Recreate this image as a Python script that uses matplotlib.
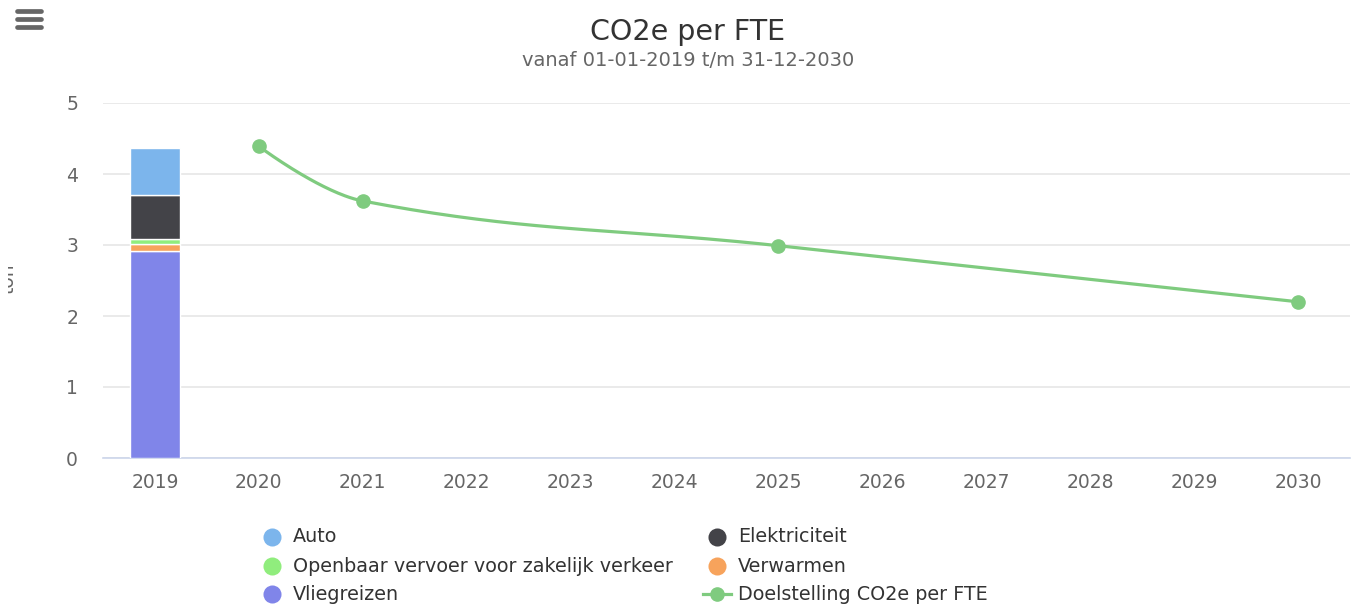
import matplotlib
matplotlib.use("Agg")
import matplotlib.pyplot as plt
import numpy as np
from matplotlib.lines import Line2D
from matplotlib.transforms import Bbox

# ---------------------------------------------------------------------------
# Data
# ---------------------------------------------------------------------------
years = ["2019", "2020", "2021", "2022", "2023", "2024",
         "2025", "2026", "2027", "2028", "2029", "2030"]

# stacked bar for 2019 (bottom -> top)
stack_names = ["Vliegreizen", "Verwarmen", "Openbaar vervoer voor zakelijk verkeer",
               "Elektriciteit", "Auto"]
stack_values = [2.92, 0.09, 0.07, 0.62, 0.67]
stack_colors = ["#8085e9", "#f7a35c", "#90ed7d", "#434348", "#7cb5ec"]

# target line
target_years = ["2020", "2021", "2025", "2030"]
target_values = [4.39, 3.62, 2.99, 2.20]
target_color = "#7fcb7f"

W, H = 1355, 604
TEXT = "#333333"
MUTED = "#666666"


def spline_path(xs, ys, smoothing=1.5, steps=60):
    """Highcharts-style spline through the points (cubic bezier per segment)."""
    n = len(xs)
    left, right = [], []
    for i in range(n):
        x, y = xs[i], ys[i]
        if i == 0 or i == n - 1:
            left.append((x, y))
            right.append((x, y))
            continue
        d = smoothing + 1
        lx, ly = (smoothing * x + xs[i - 1]) / d, (smoothing * y + ys[i - 1]) / d
        rx, ry = (smoothing * x + xs[i + 1]) / d, (smoothing * y + ys[i + 1]) / d
        if rx != lx:
            corr = (ry - ly) * (rx - x) / (rx - lx) + y - ry
            ly += corr
            ry += corr
        if ly > max(ys[i - 1], y):
            ly = max(ys[i - 1], y); ry = 2 * y - ly
        elif ly < min(ys[i - 1], y):
            ly = min(ys[i - 1], y); ry = 2 * y - ly
        if ry > max(y, ys[i + 1]):
            ry = max(y, ys[i + 1]); ly = 2 * y - ry
        elif ry < min(y, ys[i + 1]):
            ry = min(y, ys[i + 1]); ly = 2 * y - ry
        left.append((lx, ly))
        right.append((rx, ry))
    px, py = [], []
    t = np.linspace(0, 1, steps)
    for i in range(n - 1):
        p0 = np.array([xs[i], ys[i]])
        p1 = np.array(right[i])
        p2 = np.array(left[i + 1])
        p3 = np.array([xs[i + 1], ys[i + 1]])
        tt = t[:, None]
        seg = ((1 - tt) ** 3) * p0 + 3 * ((1 - tt) ** 2) * tt * p1 \
            + 3 * (1 - tt) * tt ** 2 * p2 + tt ** 3 * p3
        px.extend(seg[:, 0]); py.extend(seg[:, 1])
    return px, py


fig = plt.figure(figsize=(W / 100, H / 100), dpi=100)
ax = fig.add_axes([103 / W, 1 - 458 / H, (1350 - 103) / W, (458 - 103) / H])

x_idx = np.arange(len(years))
bar_x = years.index("2019")
bottom = 0.0
for name, val, col in zip(stack_names, stack_values, stack_colors):
    ax.bar(bar_x, val, bottom=bottom, width=0.48, color=col,
           edgecolor="white", linewidth=1, zorder=3)
    bottom += val

tx = [years.index(y) for y in target_years]
sx, sy = spline_path(tx, target_values)
ax.plot(sx, sy, color=target_color, lw=2.3, zorder=4, solid_capstyle="round")
ax.plot(tx, target_values, "o", color=target_color, ms=9.5, zorder=5)

ax.set_xlim(-0.5, len(years) - 0.5)
ax.set_ylim(0, 5)
ax.set_xticks(x_idx)
ax.set_xticklabels(years)
ax.set_yticks(range(6))
ax.tick_params(axis="both", length=0, labelsize=13.5, colors=MUTED)
ax.tick_params(axis="x", pad=11)
ax.tick_params(axis="y", pad=18)
ax.grid(axis="y", color="#e6e6e6", lw=1.2, zorder=0)
ax.set_axisbelow(True)
for side in ["top", "right", "left"]:
    ax.spines[side].set_visible(False)
ax.spines["bottom"].set_color("#ccd6eb")
ax.spines["bottom"].set_linewidth(1.2)

# titles
fig.text(688 / W, 1 - 32 / H, "CO2e per FTE", ha="center", va="center",
         fontsize=20.5, color=TEXT)
fig.text(688 / W, 1 - 61 / H, "vanaf 01-01-2019 t/m 31-12-2030", ha="center",
         va="center", fontsize=14, color=MUTED)

# y-axis title, cut off at the left edge as in the original
ylab = fig.text(18 / W, 1 - 279 / H, "ton", rotation=90, ha="right", va="center",
                fontsize=13.5, color=MUTED)
ylab.set_clip_box(Bbox.from_extents(8, 0, W, H))
ylab.set_clip_on(True)

# hamburger menu
for yy in (11, 19, 27):
    fig.add_artist(Line2D([17 / W, 41 / W], [1 - yy / H, 1 - yy / H],
                          color=MUTED, lw=3.4, solid_capstyle="round"))

# legend (row-wise like the original)
legend_items = [
    ("Auto", "#7cb5ec", 272, 537, False),
    ("Elektriciteit", "#434348", 717, 537, False),
    ("Openbaar vervoer voor zakelijk verkeer", "#90ed7d", 272, 566, False),
    ("Verwarmen", "#f7a35c", 717, 566, False),
    ("Vliegreizen", "#8085e9", 272, 594, False),
    ("Doelstelling CO2e per FTE", target_color, 717, 594, True),
]
for label, col, mx, my, is_line in legend_items:
    fy = 1 - my / H
    if is_line:
        fig.add_artist(Line2D([703 / W, 731 / W], [fy, fy], color=col, lw=2.3))
        fig.add_artist(Line2D([mx / W], [fy], marker="o", color=col, ms=9.5))
    else:
        fig.add_artist(Line2D([mx / W], [fy], marker="o", color=col, ms=13,
                              markeredgewidth=0))
    fig.text((mx + 21) / W, fy, label, ha="left", va="center",
             fontsize=13.75, color=TEXT)

fig.savefig("out.png", dpi=100)
